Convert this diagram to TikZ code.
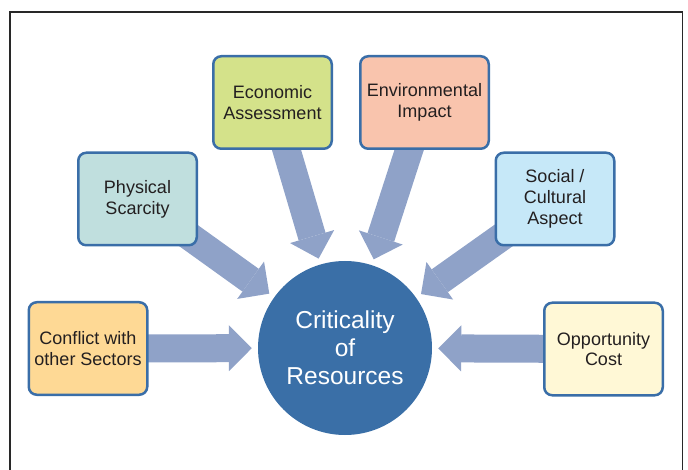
\documentclass[tikz,border=0pt]{standalone}
\usepackage{fontspec}
\setmainfont{Liberation Sans}
\usetikzlibrary{arrows.meta}
\pgfdeclarelayer{background}
\pgfsetlayers{background,main}

\definecolor{framec}{RGB}{40,40,40}
\definecolor{edgeblue}{RGB}{58,110,168}
\definecolor{hubblue}{RGB}{58,111,167}
\definecolor{flowc}{RGB}{143,162,200}
\definecolor{inkc}{RGB}{35,31,32}
\definecolor{fillconf}{RGB}{254,217,149}
\definecolor{fillphys}{RGB}{192,223,222}
\definecolor{fillecon}{RGB}{212,226,138}
\definecolor{fillenv}{RGB}{249,196,173}
\definecolor{fillsoc}{RGB}{198,232,248}
\definecolor{fillopp}{RGB}{255,248,214}

\begin{document}
\begin{tikzpicture}[x=1pt,y=-1pt,
  factor/.style={draw=edgeblue, line width=2.5pt, rounded corners=8pt,
    minimum width=118.5pt, minimum height=92.5pt, inner sep=2pt,
    align=center, text=inkc, font=\fontsize{18}{20.7}\selectfont},
  hub/.style={circle, fill=hubblue, minimum size=174pt, inner sep=0pt,
    align=center, text=white, font=\fontsize{24.5}{28.2}\selectfont},
  flow/.style={draw=flowc, line width=28pt, shorten >=6pt,
    -{Triangle[length=23pt,width=46pt,line width=0pt]}}
]
\useasboundingbox (0,0) rectangle (688,470);

% open frame around the chart
\draw[framec, line width=1.6pt] (10,472) -- (10,12) -- (682.5,12) -- (682.5,472);

% central node
\node[hub] (crit) at (345,348) {Criticality\\of\\Resources};

% surrounding factors
\node[factor, fill=fillconf] (conf) at (88,348.5) {Conflict with\\other Sectors};
\node[factor, fill=fillphys] (phys) at (137.5,199) {Physical\\Scarcity};
\node[factor, fill=fillecon] (econ) at (272.5,102.5) {Economic\\Assessment};
\node[factor, fill=fillenv, minimum width=128.5pt] (env) at (424.5,102.5) {Environmental\\Impact};
\node[factor, fill=fillsoc] (soc) at (555,199) {Social /\\Cultural\\Aspect};
\node[factor, fill=fillopp] (opp) at (603.5,349) {Opportunity\\Cost};

% block arrows pointing at the centre
\begin{pgfonlayer}{background}
  \draw[flow] (conf.center) -- (crit);
  \draw[flow] (phys.center) -- (crit);
  \draw[flow] (econ.center) -- (crit);
  \draw[flow] (env.center) -- (crit);
  \draw[flow] (soc.center) -- (crit);
  \draw[flow] (opp.center) -- (crit);
\end{pgfonlayer}
\end{tikzpicture}
\end{document}
